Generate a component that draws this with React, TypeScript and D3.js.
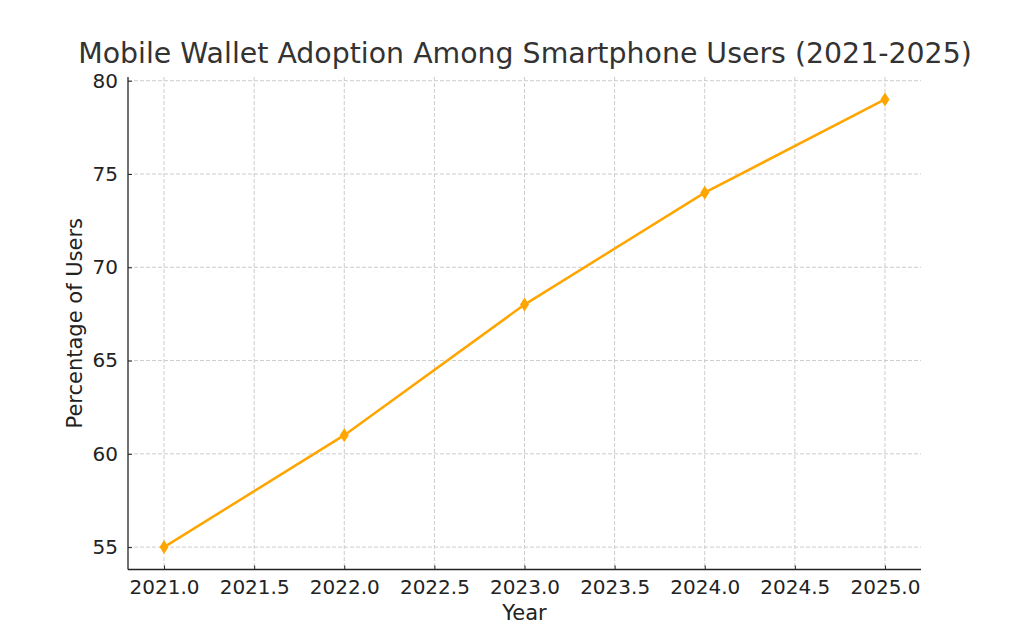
import * as d3 from "d3";
import { useEffect, useRef } from "react";

const years = [2021, 2022, 2023, 2024, 2025];
const adoption = [55, 61, 68, 74, 79];
const xTicks = [2021, 2021.5, 2022, 2022.5, 2023, 2023.5, 2024, 2024.5, 2025];
const yTicks = [55, 60, 65, 70, 75, 80];

export default function App() {
  const ref = useRef<SVGSVGElement | null>(null);

  useEffect(() => {
    const svg = d3.select(ref.current);
    svg.selectAll("*").remove();

    const W = 1024;
    const H = 640;
    const margin = { top: 77, right: 103, bottom: 70.5, left: 128 };
    const width = W - margin.left - margin.right;
    const height = H - margin.top - margin.bottom;
    const font = "'DejaVu Sans', sans-serif";

    svg.attr("width", W).attr("height", H);

    const g = svg.append("g").attr("transform", `translate(${margin.left},${margin.top})`);

    const x = d3.scaleLinear().domain([2020.8, 2025.2]).range([0, width]);
    const y = d3.scaleLinear().domain([53.8, 80.2]).range([height, 0]);

    // dashed grid
    g.append("g")
      .selectAll("line")
      .data(xTicks)
      .join("line")
      .attr("x1", (d) => x(d))
      .attr("x2", (d) => x(d))
      .attr("y1", 0)
      .attr("y2", height)
      .attr("stroke", "#cccccc")
      .attr("stroke-width", 1)
      .attr("stroke-dasharray", "4,2");
    g.append("g")
      .selectAll("line")
      .data(yTicks)
      .join("line")
      .attr("x1", 0)
      .attr("x2", width)
      .attr("y1", (d) => y(d))
      .attr("y2", (d) => y(d))
      .attr("stroke", "#cccccc")
      .attr("stroke-width", 1)
      .attr("stroke-dasharray", "4,2");

    const xAxis = d3
      .axisBottom(x)
      .tickValues(xTicks)
      .tickSize(-4)
      .tickPadding(10)
      .tickFormat((d) => d3.format(".1f")(d as number));
    const yAxis = d3.axisLeft(y).tickValues(yTicks).tickSize(-4).tickPadding(10);

    const gx = g.append("g").attr("transform", `translate(0,${height})`).call(xAxis);
    const gy = g.append("g").call(yAxis);

    [gx, gy].forEach((ax) => {
      ax.select(".domain").attr("stroke", "#222").attr("stroke-width", 1.3);
      ax.selectAll(".tick line").attr("stroke", "#222");
      ax.selectAll(".tick text")
        .attr("fill", "#222")
        .style("font-family", font)
        .style("font-size", "20px");
    });
    // only left and bottom spines
    gx.select(".domain").attr("d", `M0,0H${width}`);
    gy.select(".domain").attr("d", `M0,${height}V0`);

    const line = d3
      .line<number>()
      .x((_, i) => x(years[i]))
      .y((d) => y(d));

    g.append("path")
      .datum(adoption)
      .attr("fill", "none")
      .attr("stroke", "#FFA500")
      .attr("stroke-width", 2.5)
      .attr("d", line);

    g.append("g")
      .selectAll("path")
      .data(adoption)
      .join("path")
      .attr("transform", (d, i) => `translate(${x(years[i])},${y(d)})`)
      .attr("d", "M0,-7L4.5,0L0,7L-4.5,0Z")
      .attr("fill", "#FFA500");

    svg.append("text")
      .attr("x", 525)
      .attr("y", 63)
      .attr("text-anchor", "middle")
      .attr("fill", "#333")
      .style("font-family", font)
      .style("font-size", "28.4px")
      .text("Mobile Wallet Adoption Among Smartphone Users (2021-2025)");

    svg.append("text")
      .attr("x", margin.left + width / 2)
      .attr("y", 620)
      .attr("text-anchor", "middle")
      .attr("fill", "#222")
      .style("font-family", font)
      .style("font-size", "21px")
      .text("Year");

    svg.append("text")
      .attr("transform", `translate(82,${margin.top + height / 2}) rotate(-90)`)
      .attr("text-anchor", "middle")
      .attr("fill", "#222")
      .style("font-family", font)
      .style("font-size", "21px")
      .text("Percentage of Users");
  }, []);

  return <svg ref={ref} style={{ position: "absolute", left: 0, top: 0 }}></svg>;
}
